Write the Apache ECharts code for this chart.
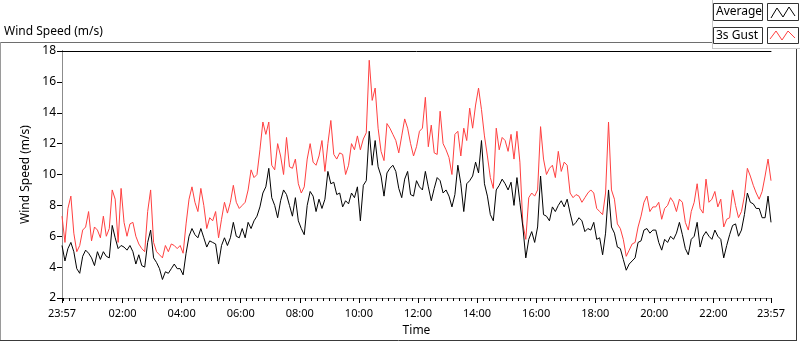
<!DOCTYPE html>
<html>
<head>
<meta charset="utf-8">
<script src="https://cdn.jsdelivr.net/npm/echarts@6/dist/echarts.min.js"></script>
<style>
  html, body { margin: 0; padding: 0; background: #fff; }
  #chart { width: 800px; height: 342px; }
</style>
</head>
<body>
<div id="chart"></div>
<script>
// minutes after the 23:57 start, one reading every 6 minutes
const sampleStep = 6;

const average = [
  5.4,4.4,5.2,5.6,5.0,3.9,3.6,4.7,5.1,4.9,4.6,4.1,5.0,4.5,5.0,4.7,4.6,6.7,5.9,5.2,5.4,5.3,5.1,5.4,5.0,4.2,4.8,4.1,4.0,
  5.6,6.4,4.6,4.3,3.9,3.2,3.7,3.6,3.9,4.2,3.9,3.9,3.5,4.9,6.0,6.5,6.1,5.9,6.5,5.9,5.3,5.7,5.6,5.5,4.2,5.4,5.9,5.4,5.9,6.9,
  6.0,5.9,6.5,5.9,6.9,6.5,7.0,7.3,7.9,8.8,9.2,10.4,8.5,8.0,7.2,8.3,9.0,8.7,8.0,7.3,8.5,7.0,6.5,6.1,8.0,8.9,8.6,7.6,8.4,7.8,8.4,
  10.2,9.4,9.5,8.7,8.8,7.9,8.3,8.1,8.8,8.5,9.2,7.0,9.3,9.6,12.8,10.6,12.2,10.5,9.9,8.6,10.1,10.4,10.6,10.2,9.1,8.5,9.7,10.2,8.7,8.6,
  9.6,9.2,9.0,10.2,9.2,8.3,9.1,9.8,9.6,8.8,9.0,8.6,7.9,8.7,10.6,9.4,7.6,9.4,9.6,9.9,10.8,10.1,12.2,9.4,8.6,7.4,7.0,9.0,9.3,9.7,
  9.4,9.0,9.5,8.0,9.8,8.2,6.6,4.6,5.8,6.3,5.6,6.6,9.9,7.4,7.3,7.0,7.9,7.6,8.0,8.3,7.9,8.4,7.5,6.7,6.9,7.2,7.0,6.3,6.5,6.4,6.9,
  5.8,5.9,4.8,6.2,9.0,6.6,6.2,5.3,5.2,4.5,3.8,4.2,4.4,4.6,5.6,5.7,6.4,6.5,6.2,6.4,6.4,5.6,5.1,5.8,5.6,6.0,5.8,6.2,6.9,6.1,
  5.2,4.8,5.8,6.0,6.9,5.3,6.0,6.3,6.0,5.8,6.4,6.0,5.8,4.6,5.4,6.1,6.7,6.8,6.0,6.4,7.4,8.8,8.2,8.1,7.8,7.8,7.2,7.2,8.6,6.9
];

const gust = [
  7.3,5.6,7.8,8.6,6.2,5.0,5.4,6.4,6.6,7.6,5.7,6.6,6.4,5.9,7.3,6.0,6.5,9.0,8.4,5.6,9.1,6.9,6.0,6.8,6.9,6.0,5.5,5.2,5.0,
  7.6,9.0,5.6,5.0,4.8,4.6,5.4,5.0,5.5,5.4,5.2,5.4,4.9,6.8,8.4,9.2,8.2,7.6,9.1,8.0,6.5,7.2,7.0,7.6,5.9,7.1,8.2,7.5,8.2,9.3,
  8.2,7.8,8.0,8.2,9.0,10.3,9.8,10.0,11.6,13.4,12.6,13.4,10.6,10.3,12.0,11.2,10.0,12.4,10.5,10.4,11.0,9.4,8.8,9.2,11.0,12.0,10.8,10.6,11.2,12.2,10.2,
  12.0,13.5,11.3,11.0,11.4,11.3,10.0,10.6,12.0,11.6,12.5,11.6,12.3,12.7,17.4,14.8,15.6,13.0,11.5,10.9,13.3,13.0,12.6,12.2,11.4,12.5,13.6,13.0,12.0,11.2,
  11.8,12.8,13.0,15.0,11.8,13.2,11.4,11.3,14.1,12.0,11.6,11.1,10.0,12.6,12.8,11.2,13.0,12.2,14.3,13.0,14.5,15.6,14.2,12.5,11.2,9.8,9.1,13.0,11.6,12.4,
  12.2,11.5,12.6,11.0,12.8,10.8,6.8,5.8,8.5,8.8,8.6,9.0,13.1,11.0,10.0,10.4,10.6,9.8,11.5,10.2,10.8,10.6,8.8,8.5,8.7,8.6,8.2,8.5,8.8,9.0,8.8,
  7.8,7.6,7.4,8.8,13.4,9.0,8.4,6.8,6.5,5.8,4.7,5.1,5.5,5.6,6.6,7.3,8.2,8.6,7.6,7.9,7.9,8.2,7.1,7.8,8.0,8.5,8.2,7.6,8.4,8.2,
  6.9,6.4,7.6,8.2,9.4,7.8,7.5,9.7,8.2,8.4,8.9,7.9,8.4,6.6,7.1,7.2,9.0,8.0,7.2,7.6,8.6,10.4,9.9,9.3,8.8,8.4,8.9,9.9,11.0,9.6
];

// time axis labels, in minutes after 23:57
const tickMinutes = [0, 123, 243, 363, 483, 603, 723, 843, 963, 1083, 1203, 1323, 1440];
const tickLabels = ['23:57', '02:00', '04:00', '06:00', '08:00', '10:00', '12:00',
  '14:00', '16:00', '18:00', '20:00', '22:00', '23:57'];
const yTicks = [2, 4, 6, 8, 10, 12, 14, 16, 18];

// minor ticks every 12 minutes, lined up with the whole hours
const minorTicks = [];
for (let m = 3; m < 1440; m += 12) minorTicks.push(m);

const font = 'Noto Sans';
const chart = echarts.init(document.getElementById('chart'));

const toPairs = (arr) => arr.map((v, i) => [i * sampleStep, v]);

const option = {
  animation: false,
  backgroundColor: '#fff',
  grid: { left: 62, right: 29, top: 51, bottom: 39 },
  xAxis: [
    {
      type: 'value',
      min: 0,
      max: 1440,
      name: 'Time',
      nameLocation: 'middle',
      nameGap: 27,
      nameTextStyle: { color: '#000', fontFamily: font, fontSize: 12 },
      axisLine: { show: true, lineStyle: { color: '#8c8c8c', width: 1 } },
      axisTick: { show: true, length: 5, lineStyle: { color: '#000' }, customValues: tickMinutes },
      axisLabel: {
        color: '#000', fontFamily: font, fontSize: 11, margin: 10,
        customValues: tickMinutes,
        formatter: (v) => tickLabels[tickMinutes.indexOf(v)] || ''
      },
      splitLine: { show: false }
    },
    {
      // minor ticks
      type: 'value',
      min: 0,
      max: 1440,
      position: 'bottom',
      axisLine: { show: false },
      axisTick: { show: true, length: 3, lineStyle: { color: '#000' }, customValues: minorTicks },
      axisLabel: { show: false },
      splitLine: { show: false }
    },
    {
      // top border of the plot
      type: 'value',
      min: 0,
      max: 1440,
      position: 'top',
      axisLine: { show: true, lineStyle: { color: '#000' } },
      axisTick: { show: false },
      axisLabel: { show: false },
      splitLine: { show: false }
    }
  ],
  yAxis: [
    {
      type: 'value',
      min: 2,
      max: 18,
      interval: 2,
      name: 'Wind Speed (m/s)',
      nameLocation: 'middle',
      nameGap: 17,
      nameTextStyle: { color: '#000', fontFamily: font, fontSize: 12 },
      axisLine: { show: true, lineStyle: { color: '#000' } },
      axisTick: { show: true, length: 5, lineStyle: { color: '#000' }, customValues: yTicks },
      axisLabel: { color: '#000', fontFamily: font, fontSize: 12, margin: 6, customValues: yTicks },
      splitLine: { show: false }
    },
    {
      // right border of the plot
      type: 'value',
      min: 2,
      max: 18,
      position: 'right',
      axisLine: { show: true, lineStyle: { color: '#8c8c8c' } },
      axisTick: { show: false },
      axisLabel: { show: false },
      splitLine: { show: false }
    }
  ],
  series: [
    {
      name: '3s Gust',
      type: 'line',
      data: toPairs(gust),
      symbol: 'none',
      lineStyle: { color: '#ff4040', width: 1 },
      itemStyle: { color: '#ff4040' }
    },
    {
      name: 'Average',
      type: 'line',
      data: toPairs(average),
      symbol: 'none',
      lineStyle: { color: '#000', width: 1 },
      itemStyle: { color: '#000' }
    }
  ],
  graphic: [
    { type: 'text', left: 4, top: 26, style: { text: 'Wind Speed (m/s)', fill: '#000', font: '12px "Noto Sans"' } },
    // outer frame
    { type: 'line', shape: { x1: 0, y1: 42.5, x2: 712, y2: 42.5 }, style: { stroke: '#6e6e6e', lineWidth: 1 } },
    { type: 'line', shape: { x1: 0.5, y1: 42, x2: 0.5, y2: 341 }, style: { stroke: '#9a9a9a', lineWidth: 1 } },
    { type: 'line', shape: { x1: 0, y1: 340.5, x2: 797, y2: 340.5 }, style: { stroke: '#3a3a3a', lineWidth: 1 } },
    { type: 'line', shape: { x1: 796.5, y1: 48, x2: 796.5, y2: 341 }, style: { stroke: '#3a3a3a', lineWidth: 1 } },
    // legend panel edges
    { type: 'line', shape: { x1: 712.5, y1: 0, x2: 712.5, y2: 49 }, style: { stroke: '#c8c8c8', lineWidth: 1 } },
    { type: 'line', shape: { x1: 712, y1: 48.5, x2: 800, y2: 48.5 }, style: { stroke: '#c8c8c8', lineWidth: 1 } },
    // legend: Average
    { type: 'rect', shape: { x: 713.5, y: 3.5, width: 49, height: 17 }, style: { fill: '#fff', stroke: '#333', lineWidth: 1 } },
    { type: 'text', x: 716, y: 12, style: { text: 'Average', fill: '#000', font: '12px "Noto Sans"', verticalAlign: 'middle' } },
    { type: 'rect', shape: { x: 767.5, y: 3.5, width: 31, height: 17 }, style: { fill: '#fff', stroke: '#333', lineWidth: 1 } },
    { type: 'polyline', shape: { points: [[771, 18], [777, 8], [783, 17], [789, 7], [795, 16]] }, style: { stroke: '#000', lineWidth: 1, fill: null } },
    // legend: 3s Gust
    { type: 'rect', shape: { x: 713.5, y: 27.5, width: 49, height: 16 }, style: { fill: '#fff', stroke: '#333', lineWidth: 1 } },
    { type: 'text', x: 716, y: 35.5, style: { text: '3s Gust', fill: '#000', font: '12px "Noto Sans"', verticalAlign: 'middle' } },
    { type: 'rect', shape: { x: 767.5, y: 27.5, width: 31, height: 16 }, style: { fill: '#fff', stroke: '#333', lineWidth: 1 } },
    { type: 'polyline', shape: { points: [[770, 39], [776, 31], [782, 40], [788, 31], [795, 38]] }, style: { stroke: '#ff4040', lineWidth: 1, fill: null } }
  ]
};

chart.setOption(option);
</script>
</body>
</html>
